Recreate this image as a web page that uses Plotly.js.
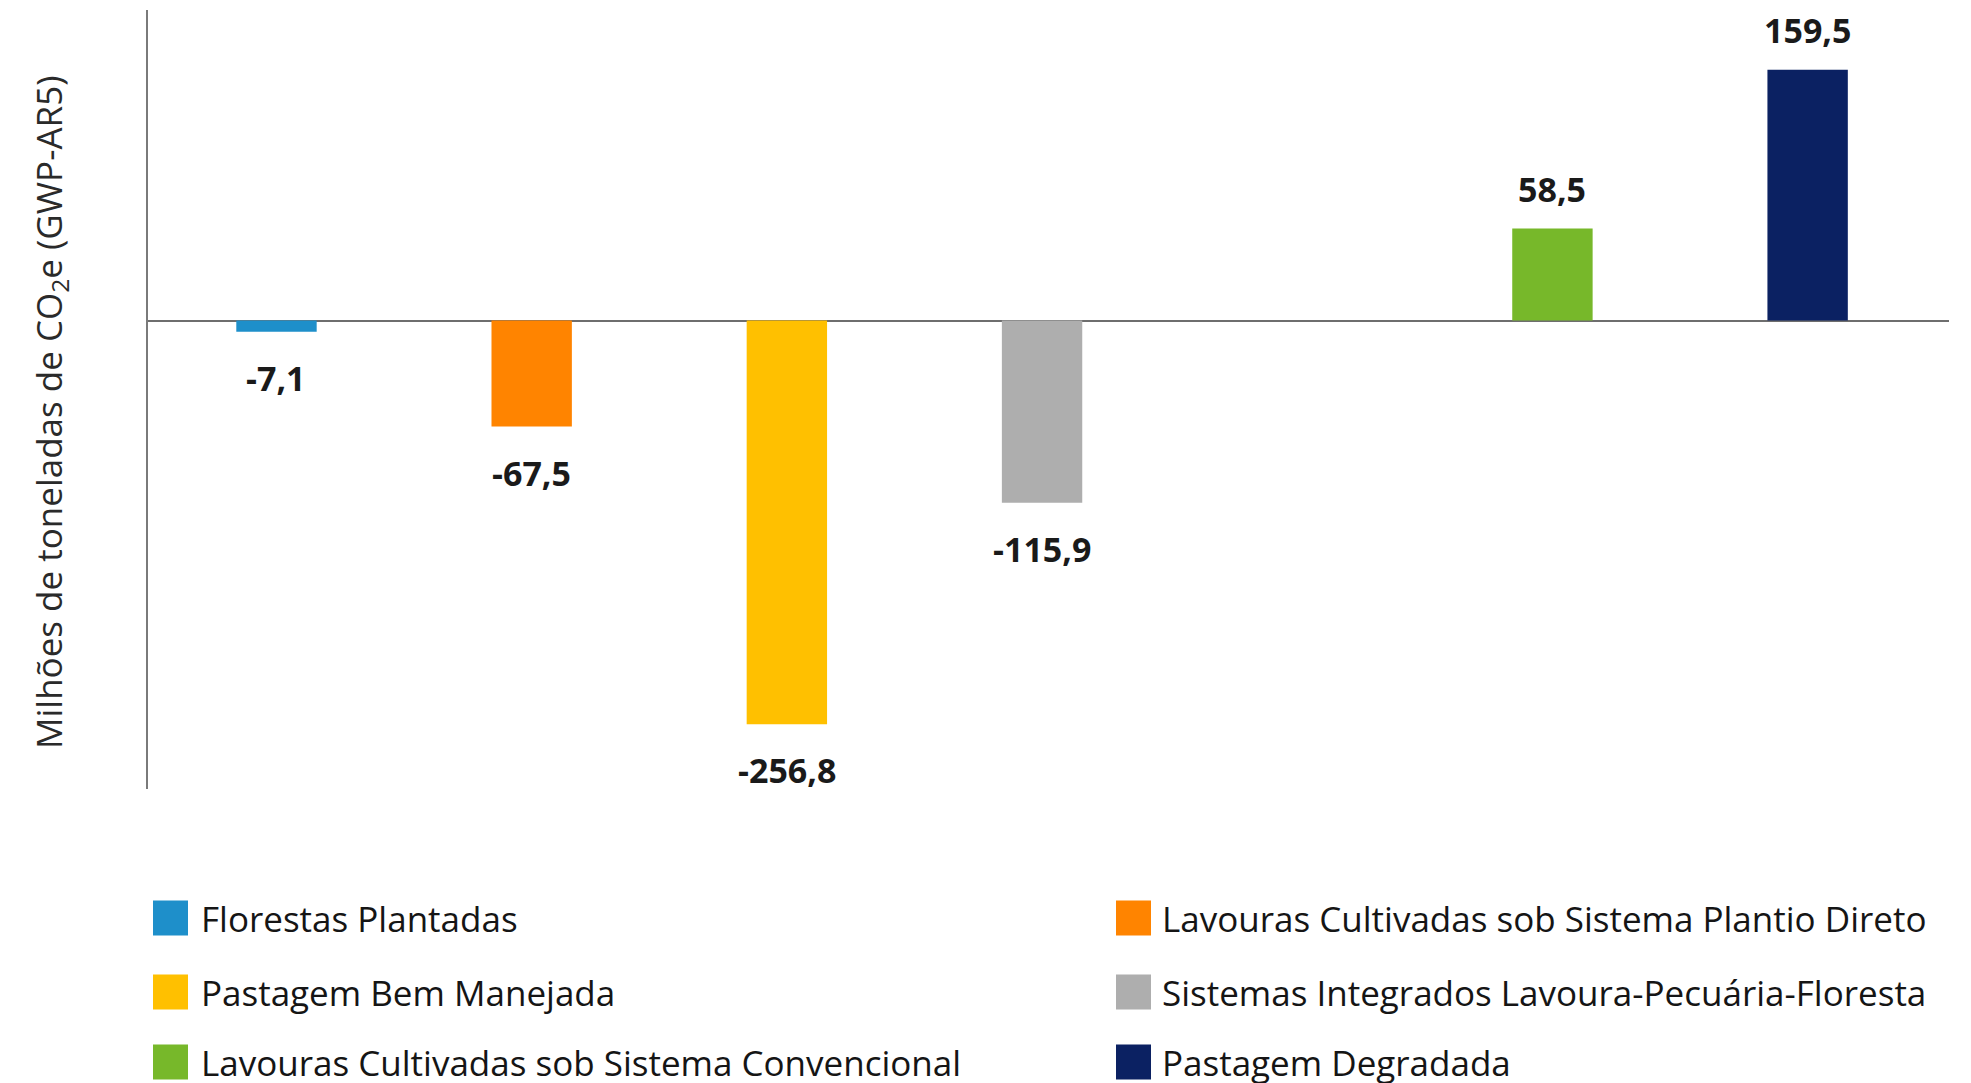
<!DOCTYPE html>
<html>
<head>
<meta charset="utf-8">
<script src="https://cdn.plot.ly/plotly-3.0.1.min.js"></script>
<style>
  html, body { margin: 0; padding: 0; background: #ffffff; }
  #chart { width: 1971px; height: 1083px; }
</style>
</head>
<body>
<div id="chart"></div>
<script>
// ---- Data ----
const categories = [
  "Florestas Plantadas",
  "Lavouras Cultivadas sob Sistema Plantio Direto",
  "Pastagem Bem Manejada",
  "Sistemas Integrados Lavoura-Pecuária-Floresta",
  "Lavouras Cultivadas sob Sistema Convencional",
  "Pastagem Degradada"
];
const values = [-7.1, -67.5, -256.8, -115.9, 58.5, 159.5];
const colors = ["#1E8FCA", "#FF8400", "#FFC000", "#AEAEAE", "#77B82A", "#0B2162"];
// category slots along the x axis (one empty slot between the negative and positive groups)
const slotOrder = [categories[0], categories[1], categories[2], categories[3], "(vazio)", categories[4], categories[5]];
const yTitle = "Milhões de toneladas de CO<sub>2</sub>e (GWP-AR5)";

// ---- Layout constants (pixels) ----
const W = 1971, H = 1083;
const M = { l: 148, r: 22, t: 10, b: 294 };
const plotW = W - M.l - M.r, plotH = H - M.t - M.b;
const px2paperX = px => (px - M.l) / plotW;
const px2paperY = py => (H - M.b - py) / plotH;

const fmt = v => v.toFixed(1).replace(".", ",");

const trace = {
  type: "bar",
  x: categories,
  y: values,
  width: 0.315,
  marker: { color: colors, line: { width: 0 } },
  hoverinfo: "x+y",
  showlegend: false
};

// value labels
const labelAnnots = categories.map((c, i) => ({
  xref: "x", yref: "y", x: c, y: values[i],
  text: fmt(values[i]),
  showarrow: false,
  xanchor: "center", yanchor: "middle",
  yshift: values[i] >= 0 ? 40 : -46,
  font: { family: "Open Sans", size: 34, color: "#1a1a1a", weight: 700 }
}));

// y axis title (rotated), placed to match the reference
const titleAnnot = {
  xref: "paper", yref: "paper",
  x: px2paperX(50), y: px2paperY(413),
  text: yTitle, textangle: -90, showarrow: false,
  xanchor: "center", yanchor: "middle",
  font: { family: "Open Sans", size: 35, color: "#2a2a2a" }
};

// custom legend: 2 columns x 3 rows
const legRowsPx = [918, 992, 1062];
const legMarkerXPx = [153, 1116];
const legTextXPx = [199, 1160];
const legSize = 35;
const legendShapes = [];
const legendAnnots = [];
categories.forEach((c, i) => {
  const col = i % 2, row = Math.floor(i / 2);
  const cy = legRowsPx[row];
  legendShapes.push({
    type: "rect", xref: "paper", yref: "paper",
    x0: px2paperX(legMarkerXPx[col]), x1: px2paperX(legMarkerXPx[col] + legSize),
    y0: px2paperY(cy + legSize / 2), y1: px2paperY(cy - legSize / 2),
    fillcolor: colors[i], line: { width: 0 }
  });
  legendAnnots.push({
    xref: "paper", yref: "paper",
    x: px2paperX(legTextXPx[col]), y: px2paperY(cy),
    text: c, showarrow: false, xanchor: "left", yanchor: "middle",
    font: { family: "Open Sans", size: 35, color: "#151515", weight: 500 }
  });
});

const layout = {
  width: W, height: H,
  margin: { l: M.l, r: M.r, t: M.t, b: M.b, pad: 0 },
  paper_bgcolor: "#ffffff",
  plot_bgcolor: "#ffffff",
  font: { family: "Open Sans", color: "#222222" },
  barmode: "overlay",
  xaxis: {
    type: "category",
    categoryorder: "array",
    categoryarray: slotOrder,
    range: [-0.5035, 6.554],
    showticklabels: false, ticks: "", showgrid: false,
    zeroline: false, showline: false, fixedrange: true
  },
  yaxis: {
    range: [-298, 197.5],
    showticklabels: false, ticks: "", showgrid: false,
    zeroline: true, zerolinecolor: "#6e6e6e", zerolinewidth: 2,
    showline: true, linecolor: "#7a7a7a", linewidth: 2,
    fixedrange: true
  },
  annotations: [titleAnnot].concat(labelAnnots, legendAnnots),
  shapes: legendShapes
};

Plotly.newPlot("chart", [trace], layout, { displayModeBar: false, staticPlot: true });
</script>
</body>
</html>
